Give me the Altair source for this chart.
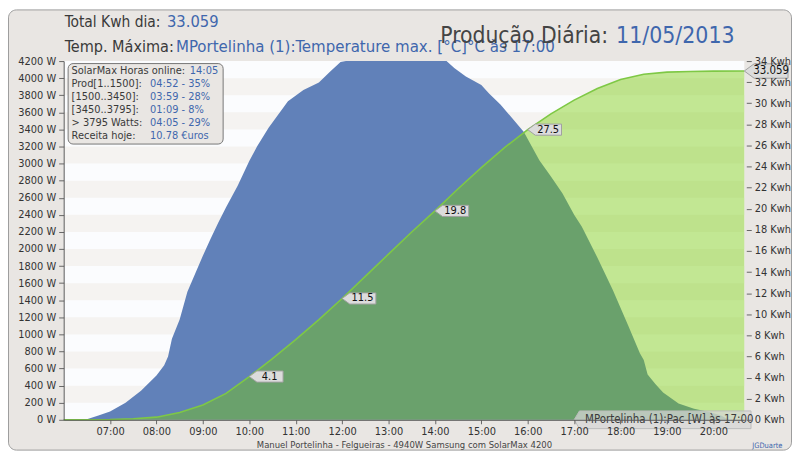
import altair as alt
import pandas as pd

DAY = "2013-05-11 "

# ---- Pac [W] series ----
pac_times = ["06:00", "06:28", "06:45", "07:00", "07:20", "07:40", "08:00", "08:10", "08:15",
             "08:20", "08:30", "08:40", "08:50", "09:00", "09:10", "09:20", "09:30", "09:45",
             "10:00", "10:10", "10:25", "10:50", "11:10", "11:30", "11:45", "11:58", "12:05",
             "14:15", "14:25", "14:40", "15:00", "15:10", "15:25", "15:40", "15:55", "16:15",
             "16:30", "16:45", "17:00", "17:10", "17:30", "17:50", "18:10", "18:25", "18:30",
             "18:35", "18:45", "18:55", "19:15", "19:35", "19:55", "20:10", "20:20", "20:40"]
pac_watts = [0, 0, 50, 97, 200, 340, 520, 640, 740,
             950, 1175, 1500, 1710, 1920, 2120, 2310, 2490, 2740,
             3030, 3200, 3420, 3730, 3860, 3950, 4080, 4190, 4200,
             4200, 4120, 4020, 3920, 3820, 3690, 3530, 3370, 3040,
             2850, 2650, 2400, 2260, 1900, 1520, 1100, 780, 700,
             530, 420, 320, 190, 130, 90, 50, 0, 0]

# ---- cumulative energy [Kwh] ----
kwh_times = ["06:00", "06:30", "07:00", "07:30", "08:00", "08:30", "09:00", "09:30", "10:00",
             "10:30", "11:00", "11:30", "12:00", "12:30", "13:00", "13:30", "14:00", "14:30",
             "15:00", "15:30", "16:00", "16:30", "17:00", "17:30", "18:00", "18:30", "19:00",
             "19:30", "20:00", "20:40"]
kwh_values = [0, 0, 0.02, 0.1, 0.25, 0.7, 1.4, 2.5, 4.1,
              5.8, 7.6, 9.5, 11.5, 13.6, 15.7, 17.8, 19.8, 21.9,
              23.9, 25.8, 27.5, 29.0, 30.3, 31.4, 32.25, 32.75, 32.95,
              33.02, 33.05, 33.059]

callout_times = ["10:00", "12:00", "14:00", "16:00"]
callout_values = [4.1, 11.5, 19.8, 27.5]
total_time = ["20:40"]
total_value = [33.059]
pac_note_time = ["17:00"]
pac_note_value = [0]
pac_note_text = ["MPortelinha (1):Pac [W] às 17:00"]

watt_ticks = list(range(0, 4201, 200))
stripe_lo = list(range(200, 4000, 400))
kwh_ticks = list(range(0, 35, 2))
hour_ticks = list(range(7, 21))

info_labels = ["SolarMax Horas online:", "Prod[1..1500]:", "[1500..3450]:",
               "[3450..3795]:", "> 3795 Watts:", "Receita hoje:"]
info_values = ["14:05", "04:52 - 35%", "03:59 - 28%", "01:09 - 8%", "04:05 - 29%", "10.78 €uros"]

F = "DejaVu Sans Condensed, DejaVu Sans"
W, H = 685, 361
BLUE_TXT = "#3f67ad"
DARK = "#3a3a3a"

pac = pd.DataFrame({"t": pd.to_datetime([DAY + s for s in pac_times]), "w": pac_watts})
kwh = pd.DataFrame({"t": pd.to_datetime([DAY + s for s in kwh_times]), "k": kwh_values})
calls = pd.DataFrame({"t": pd.to_datetime([DAY + s for s in callout_times]),
                      "k": callout_values, "lab": [f"{v:.1f}" for v in callout_values]})
tot = pd.DataFrame({"t": pd.to_datetime([DAY + s for s in total_time]),
                    "k": total_value, "lab": [f"{v:.3f}" for v in total_value]})
note = pd.DataFrame({"t": pd.to_datetime([DAY + s for s in pac_note_time]),
                     "w": pac_note_value, "lab": pac_note_text})
stripes = pd.DataFrame({"lo": stripe_lo, "hi": [v + 200 for v in stripe_lo]})

def dt(h, m=0):
    return alt.DateTime(year=2013, month=5, date=11, hours=h, minutes=m)

xscale = alt.Scale(domain=[dt(6), dt(20, 40)], nice=False)
xaxis = alt.Axis(values=[dt(h) for h in hour_ticks], format="%H:%M", title=None, grid=False,
                 labelFont=F, labelFontSize=11, labelColor="#333", tickColor="#666",
                 domainColor="#555", tickSize=4, labelPadding=2, labelFlush=False,
                 labelOverlap=False, zindex=1)
wscale = alt.Scale(domain=[0, 4200], nice=False, zero=True)
kscale = alt.Scale(domain=[0, 34], nice=False, zero=True)
leftaxis = alt.Axis(values=watt_ticks, labelExpr="datum.value + ' W'", title=None, grid=False,
                    tickSize=5, labelPadding=3, domainColor="#555", tickColor="#666",
                    labelFont=F, labelFontSize=11, labelColor="#333", labelOverlap=False,
                    zindex=1)
rightaxis = alt.Axis(orient="right", values=kwh_ticks, labelExpr="datum.value + ' Kwh'",
                     title=None, grid=False, domain=False, offset=2, tickSize=5, labelPadding=3,
                     tickColor="#666", labelFont=F, labelFontSize=11, labelColor="#333",
                     labelOverlap=False, zindex=1)

X = alt.X("t:T", scale=xscale, axis=xaxis)

one = pd.DataFrame({"a": [0]})

frame = alt.Chart(one).mark_rect(fill="#e9e6e3", stroke="#9c9c9c", strokeWidth=1,
                                 cornerRadius=8).encode(
    x=alt.value(-55.5), x2=alt.value(W + 47.5), y=alt.value(-51.5), y2=alt.value(H + 30.5))
plotbg = alt.Chart(one).mark_rect(fill="#fbfcfe").encode(
    x=alt.value(0), x2=alt.value(W), y=alt.value(0), y2=alt.value(H))

stripe_layer = alt.Chart(stripes).mark_rect(fill="#f5f3f1").encode(
    x=alt.value(0), x2=alt.value(W),
    y=alt.Y("lo:Q", scale=wscale, axis=leftaxis), y2="hi:Q")
blue = alt.Chart(pac).mark_area(color="#6181b9", interpolate="linear").encode(
    x=X, y=alt.Y("w:Q", scale=wscale, axis=leftaxis))
w_layer = alt.layer(stripe_layer, blue)

KY = alt.Y("k:Q", scale=kscale, axis=rightaxis)
green_area = alt.Chart(kwh).mark_area(fill="#77cb06", fillOpacity=0.43).encode(x=X, y=KY)
green_line = alt.Chart(kwh).mark_line(color="#7ec845", strokeWidth=1.6).encode(x=X, y=KY)

PATH = "M0,0L0.45,-0.33L2,-0.33L2,0.33L0.45,0.33Z"
call_pts = alt.Chart(calls).mark_point(shape=PATH, filled=True, fill="#dcdcdc", stroke="#a0a0a0",
                                       strokeWidth=1, size=34 * 34, opacity=1).encode(x=X, y=KY)
call_txt = alt.Chart(calls).mark_text(dx=20.5, align="center", baseline="middle", font=F,
                                      fontSize=11, color="#111").encode(x=X, y=KY, text="lab:N")
tot_pt = alt.Chart(tot).mark_point(shape=PATH, filled=True, fill="#dcdcdc", stroke="#a0a0a0",
                                   strokeWidth=1, size=44 * 44, opacity=1).encode(x=X, y=KY)
tot_txt = alt.Chart(tot).mark_text(dx=27, align="center", baseline="middle", font=F,
                                   fontSize=11.5, color="#111").encode(x=X, y=KY, text="lab:N")
k_layer = alt.layer(green_area, green_line, call_pts, call_txt, tot_pt, tot_txt)

NY = alt.Y("w:Q", scale=wscale, axis=None)
NPATH = "M0,0L0.06,-0.1L2,-0.1L2,0.1L0.06,0.1Z"
note_pt = alt.Chart(note).mark_point(shape=NPATH, filled=True, fill="#d6d6d6", fillOpacity=0.75,
                                     stroke="#bbbbbb", strokeWidth=1, size=178 * 178).encode(x=X, y=NY)
note_txt = alt.Chart(note).mark_text(dx=11, align="left", baseline="middle", font=F,
                                     fontSize=11.5, color=DARK).encode(x=X, y=NY, text="lab:N")
n_layer = alt.layer(note_pt, note_txt)


def txt(s, x, y, size, color, align="left", baseline="alphabetic"):
    return alt.Chart(one).mark_text(text=s, font=F, fontSize=size, color=color, align=align,
                                    baseline=baseline).encode(x=alt.value(x), y=alt.value(y))


texts = [
    txt("Total Kwh dia:", 1, -34, 15.5, DARK),
    txt("33.059", 104, -34, 16.5, BLUE_TXT),
    txt("Temp. Máxima:", 1, -9, 16.2, DARK),
    txt("MPortelinha (1):Temperature max. [°C]°C às 17:00", 113, -9, 16.8, BLUE_TXT),
    txt("Produção Diária:", 379, -18, 22.8, "#444"),
    txt("11/05/2013", 556, -18, 23, BLUE_TXT),
    txt("Manuel Portelinha - Felgueiras -  4940W Samsung com SolarMax 4200", 343, 389, 9.5, "#444",
        align="center"),
    txt("JGDuarte", 693, 389, 7.5, BLUE_TXT),
]

infobox = alt.Chart(one).mark_rect(fill="#e9e6e3", stroke="#777", strokeWidth=1,
                                   cornerRadius=5).encode(
    x=alt.value(4.5), x2=alt.value(160.5), y=alt.value(2.5), y2=alt.value(83.5))
info = []
for i, (lab, val) in enumerate(zip(info_labels, info_values)):
    y = 13 + 13 * i
    info.append(txt(lab, 8, y, 11, DARK))
    info.append(txt(val, 127 if i == 0 else 87, y, 11, BLUE_TXT))

chart = alt.layer(frame, plotbg, w_layer, k_layer, n_layer, infobox, *info, *texts).resolve_scale(
    y="independent"
).properties(
    width=W, height=H, autosize=alt.AutoSizeParams(type="none"),
    padding={"left": 56, "top": 52, "right": 48, "bottom": 32},
).configure_view(stroke=None).configure(background="white")

chart.save("out.html", embed_options={"renderer": "svg", "actions": False})
